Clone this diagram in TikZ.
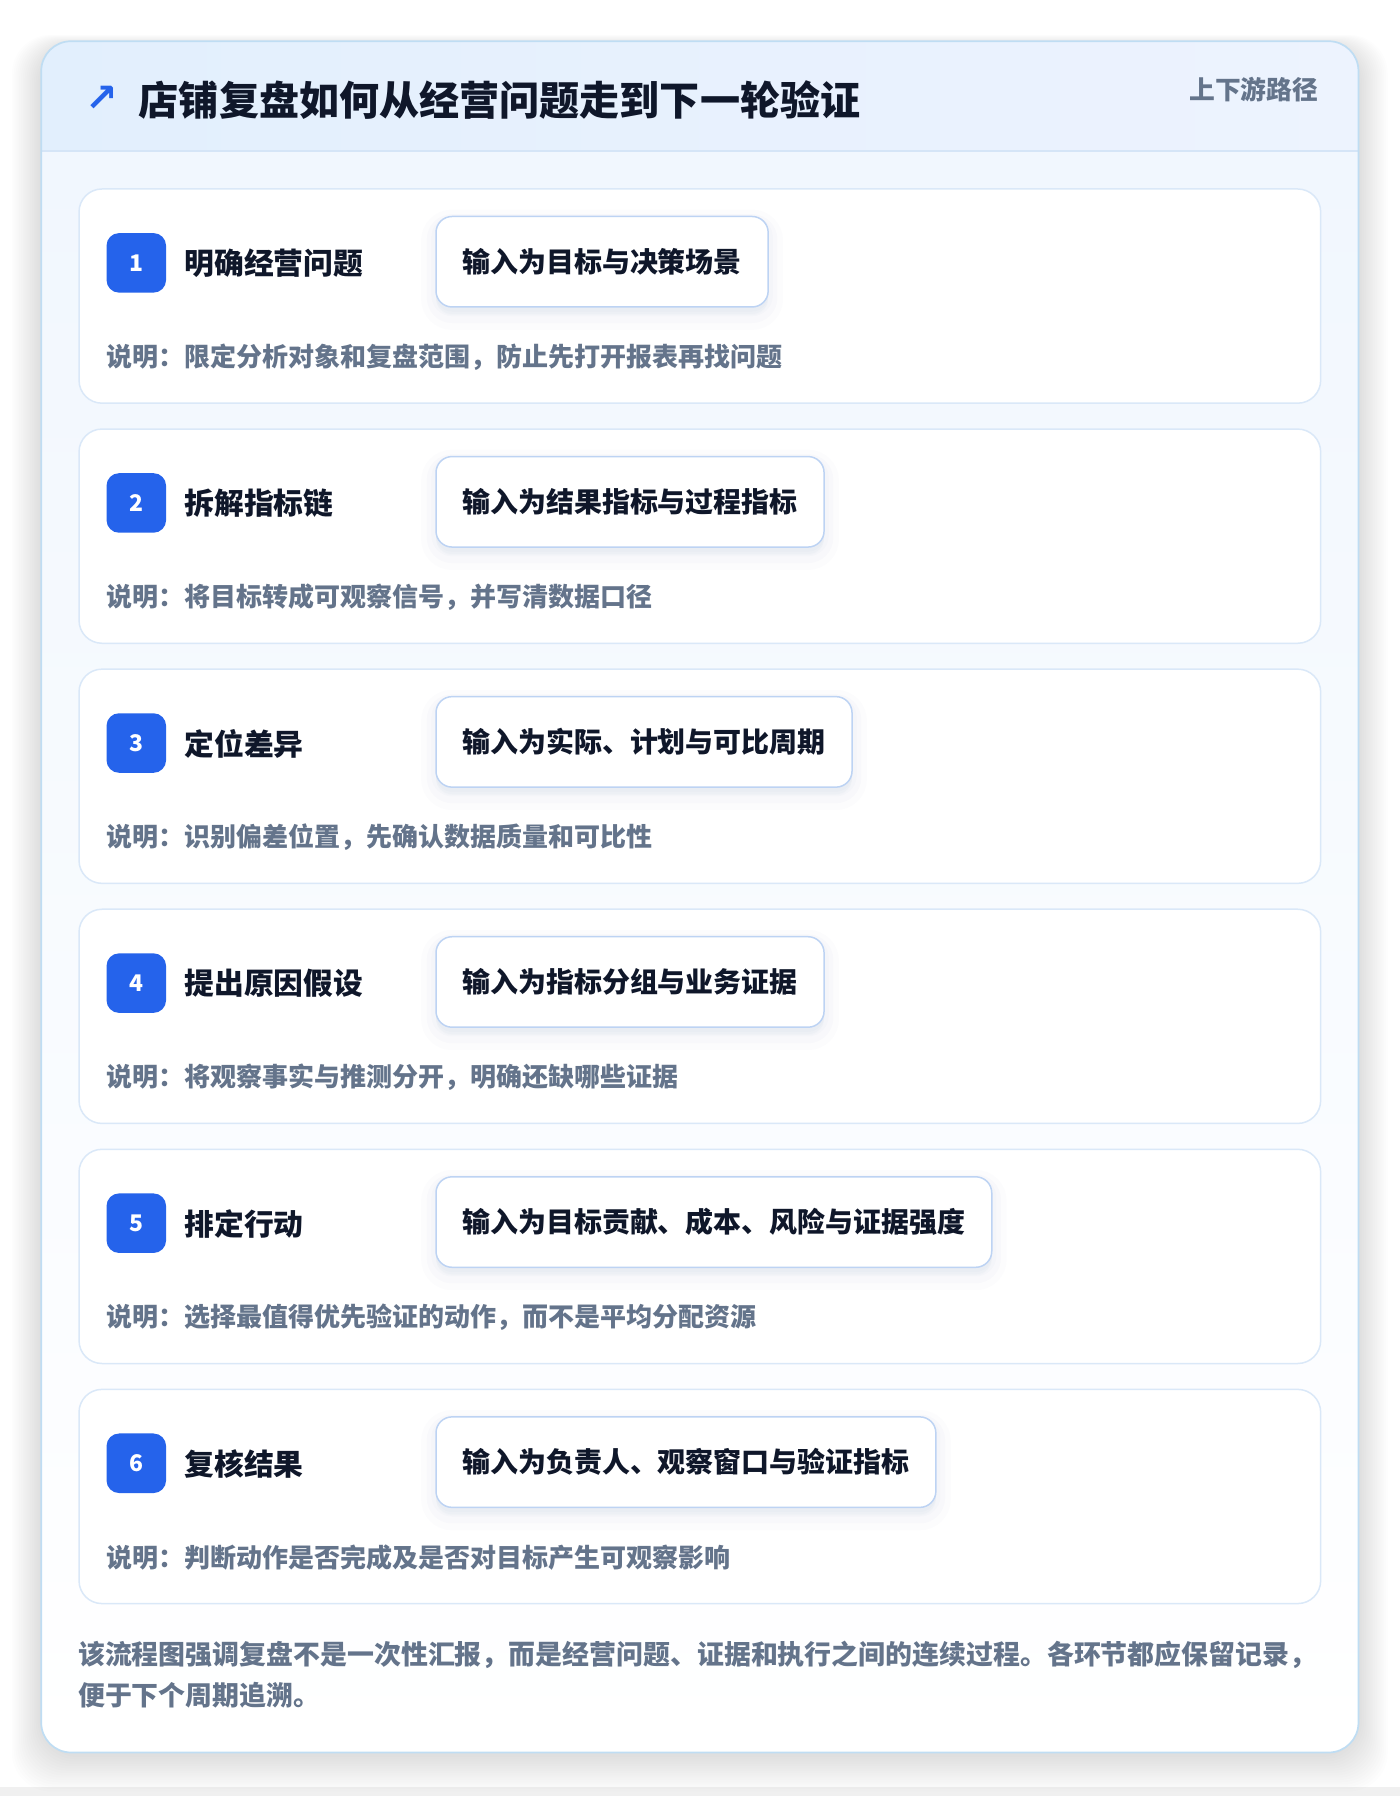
\documentclass[tikz,border=0pt]{standalone}
\usepackage{fontspec}
\setmainfont{Noto Sans CJK SC}
\newfontfamily\symf{DejaVu Sans}
\definecolor{ink}{HTML}{0F172A}
\definecolor{muted}{HTML}{64748B}
\definecolor{accent}{HTML}{2563EB}
\definecolor{outerb}{HTML}{BFDDF3}
\definecolor{hdrL}{HTML}{E2EFFD}
\definecolor{hdrR}{HTML}{EDF3FE}
\definecolor{sepc}{HTML}{D5E5F7}
\definecolor{bodyT}{HTML}{F1F7FE}
\definecolor{cardb}{HTML}{DAE8F8}
\definecolor{inb}{HTML}{BDD3F3}
\definecolor{shadc}{HTML}{1E3A8A}
\newcommand{\fs}[1]{\fontsize{#1}{#1}\selectfont}
\tikzset{
  cardbox/.style={draw=cardb, fill=white, line width=1.3pt, rounded corners=20pt,
    minimum width=1084pt, minimum height=187pt, inner sep=0pt},
  badge/.style={fill=accent, text=white, rounded corners=11pt, minimum size=52pt,
    inner sep=0pt, font=\fs{20}\bfseries},
  steptitle/.style={anchor=west, text=ink, font=\fs{26}\bfseries, inner sep=0pt},
  inbox/.style={anchor=west, draw=inb, fill=white, line width=1.3pt, rounded corners=14pt,
    minimum height=79pt, inner xsep=23pt, text=ink, font=\fs{24.4}\bfseries,
    preaction={fill=shadc, fill opacity=0.012, draw=shadc, draw opacity=0.012, line width=26pt, rounded corners=20pt, transform canvas={yshift=-7pt}},
    preaction={fill=shadc, fill opacity=0.014, draw=shadc, draw opacity=0.014, line width=16pt, rounded corners=18pt, transform canvas={yshift=-6pt}},
    preaction={fill=shadc, fill opacity=0.016, draw=shadc, draw opacity=0.016, line width=8pt, rounded corners=16pt, transform canvas={yshift=-4pt}}},
  desc/.style={anchor=west, text=muted, font=\fs{22.7}\bfseries, inner sep=0pt},
  foot/.style={anchor=west, text=muted, font=\fs{23.5}\bfseries, inner sep=0pt}
}
\begin{document}
\begin{tikzpicture}[x=1pt,y=-1pt]
\useasboundingbox (0,0) rectangle (1222,1568);
\fill[white] (0,0) rectangle (1222,1568);
\fill[black!6] (0,1560) rectangle (1222,1568);
% outer shadow
\foreach \k in {1,...,16}
  \fill[black, opacity=0.006, rounded corners=34pt]
    ({36-\k*1.6},{40-\k*0.6}) rectangle ({1186+\k*1.6},{1532+\k*2.0});
% card body
\begin{scope}
  \clip[rounded corners=26pt] (36,36) rectangle (1186,1530);
  \shade[top color=bodyT, bottom color=white] (36,132) rectangle (1186,1530);
  \shade[left color=hdrL, right color=hdrR] (36,36) rectangle (1186,132);
  \draw[sepc, line width=1.5pt] (36,132) -- (1186,132);
\end{scope}
\draw[outerb, line width=1.5pt, rounded corners=26pt] (36,36) rectangle (1186,1530);
% header
\node[text=accent, font=\symf\fs{34}\bfseries, inner sep=0pt] (icon) at (89,86) {↗};
\node[anchor=west, text=ink, font=\fs{35}\bfseries, inner sep=0pt] (title) at (121,87) {店铺复盘如何从经营问题走到下一轮验证};
\node[anchor=east, text=muted, font=\fs{22.5}\bfseries, inner sep=0pt] (tag) at (1151,78) {上下游路径};
% steps
\foreach \i/\ttl/\inp/\dsc in {
  1/明确经营问题/输入为目标与决策场景/说明：限定分析对象和复盘范围，防止先打开报表再找问题,
  2/拆解指标链/输入为结果指标与过程指标/说明：将目标转成可观察信号，并写清数据口径,
  3/定位差异/输入为实际、计划与可比周期/说明：识别偏差位置，先确认数据质量和可比性,
  4/提出原因假设/输入为指标分组与业务证据/说明：将观察事实与推测分开，明确还缺哪些证据,
  5/排定行动/输入为目标贡献、成本、风险与证据强度/说明：选择最值得优先验证的动作，而不是平均分配资源,
  6/复核结果/输入为负责人、观察窗口与验证指标/说明：判断动作是否完成及是否对目标产生可观察影响}
{
  \pgfmathsetmacro{\t}{165+(\i-1)*209.6}
  \node[cardbox] (card\i) at (611,{\t+93.5}) {};
  \node[badge] (badge\i) at (119,{\t+64.5}) {\i};
  \node[steptitle] (step\i) at (161,{\t+65}) {\ttl};
  \node[inbox] (input\i) at (380,{\t+63.5}) {\inp};
  \node[desc] (desc\i) at (93,{\t+147}) {\dsc};
}
% footer
\node[foot] (foot1) at (68,1445) {该流程图强调复盘不是一次性汇报，而是经营问题、证据和执行之间的连续过程。各环节都应保留记录，};
\node[foot] (foot2) at (68,1480) {便于下个周期追溯。};
\end{tikzpicture}
\end{document}
